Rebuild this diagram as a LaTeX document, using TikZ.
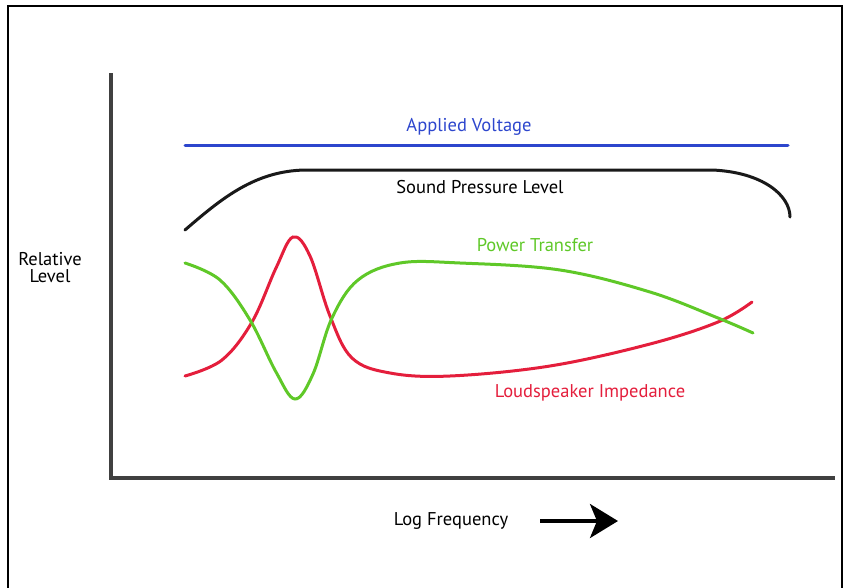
\documentclass[tikz,border=0pt]{standalone}
\usepackage{fontspec}
\setmainfont{PT Sans}
\usepackage{tikz}
\usetikzlibrary{arrows.meta}

\definecolor{voltblue}{RGB}{45,70,205}
\definecolor{imped}{RGB}{228,30,60}
\definecolor{power}{RGB}{95,200,40}

\begin{document}
\begin{tikzpicture}[x = 1pt, y = -1pt, font = \fontsize{18.5}{20}\selectfont,
        curve/.style = {line width = 3pt, line cap = round}]
        \useasboundingbox (0, 0) rectangle (852, 587);
        \draw [line width = 1.4pt] (8, 590) -- (8, 6) -- (842, 6) -- (842, 590);
        \draw [line width = 3.2pt, black!75] (111, 73) -- (111, 478) -- (835, 478);
        \node (ylabel) [align = center] at (50, 268) {Relative\\[-3pt]Level};
        \node (xlabel) at (451, 521) {Log Frequency};
        \draw [line width = 3.6pt, -{Stealth[length = 28pt, width = 34pt, inset = 7pt]}] (540, 521) -- (618, 521);
        \draw [curve, voltblue] (185, 145) -- (788, 145);
        \node (volt) [voltblue] at (469, 127) {Applied Voltage};
        \draw [curve, black!90] (185, 230) .. controls (222, 198) and (255, 171) .. (305, 170) -- (712, 170)
            .. controls (762, 172) and (790, 195) .. (790, 217);
        \node (spl) at (480, 187) {Sound Pressure Level};
        \draw [curve, imped] plot [smooth, tension = 0.6] coordinates {(185, 376) (222, 360) (252, 322) (276, 268) (293, 237) (310, 256) (330, 316) (352, 358) (390, 373) (450, 376) (550, 366) (650, 344) (718, 322) (752, 302)};
        \node (imp) [imped] at (590, 393) {Loudspeaker Impedance};
        \draw [curve, power] plot [smooth, tension = 0.6] coordinates {(185, 263) (220, 280) (250, 320) (276, 372) (295, 399) (313, 374) (332, 318) (358, 280) (400, 263) (460, 263) (560, 270) (650, 292) (718, 318) (753, 333)};
        \node (pwr) [power] at (535, 245) {Power Transfer};
    \end{tikzpicture}
\end{document}
